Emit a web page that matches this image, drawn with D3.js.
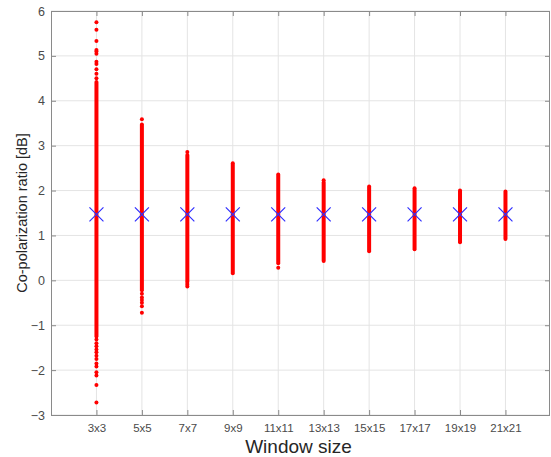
<!DOCTYPE html>
<html>
<head>
<meta charset="utf-8">
<script src="https://cdn.jsdelivr.net/npm/d3@7"></script>
<style>
  body { margin: 0; background: #fff; }
  svg { display: block; font-family: "Liberation Sans", Arial, Helvetica, sans-serif; }
</style>
</head>
<body>
<div id="chart"></div>
<script>
// window sizes on the x axis
const categories = ['3x3', '5x5', '7x7', '9x9', '11x11', '13x13', '15x15', '17x17', '19x19', '21x21'];
// mean co-pol ratio per window (blue crosses)
const meanValues = [1.47, 1.47, 1.47, 1.47, 1.47, 1.47, 1.47, 1.47, 1.47, 1.47];
// continuous part of each red column
const denseLow  = [-1.25, -0.22, -0.02, 0.16, 0.38, 0.43, 0.65, 0.69, 0.85, 0.92];
const denseHigh = [4.42, 3.47, 2.79, 2.61, 2.36, 2.18, 2.09, 2.05, 2.0, 1.98];
// isolated samples outside the continuous part
const outliers = [
  [4.5, 4.6, 4.7, 4.82, 4.87, 5.05, 5.1, 5.13, 5.33, 5.58, 5.75,
   -1.32, -1.4, -1.47, -1.54, -1.6, -1.68, -1.75, -1.85, -1.92, -2.05, -2.12, -2.33, -2.72],
  [3.59, -0.3, -0.38, -0.44, -0.5, -0.58, -0.72],
  [2.86, -0.06, -0.1, -0.14],
  [],
  [0.28],
  [2.23],
  [],
  [],
  [],
  []
];
const yTicks = [-3, -2, -1, 0, 1, 2, 3, 4, 5, 6];

const W = 551, H = 457;
const mLeft = 51, mRight = 550, mTop = 11, mBottom = 415;

const svg = d3.select('#chart').append('svg')
  .attr('width', W)
  .attr('height', H);

const x = d3.scaleLinear().domain([0, 11]).range([mLeft, mLeft + (mRight - mLeft) * 11 / 10.98]);
const y = d3.scaleLinear().domain([-3, 6]).range([mBottom, mTop]);
const xPos = (i) => x(i + 1);

const gridColor = '#e4e4e4';
const axisColor = '#8a8a8a';
const textColor = '#4a4a4a';

// grid
svg.append('g').selectAll('line')
  .data(categories)
  .enter().append('line')
  .attr('x1', (d, i) => xPos(i)).attr('x2', (d, i) => xPos(i))
  .attr('y1', mTop).attr('y2', mBottom)
  .attr('stroke', gridColor).attr('stroke-width', 1);

svg.append('g').selectAll('line')
  .data(yTicks)
  .enter().append('line')
  .attr('x1', mLeft).attr('x2', mRight)
  .attr('y1', d => y(d)).attr('y2', d => y(d))
  .attr('stroke', gridColor).attr('stroke-width', 1);

// axes (MATLAB style: ticks inside, box)
const tickLen = 5;
const xAxisB = svg.append('g')
  .attr('transform', `translate(0, ${mBottom})`)
  .call(d3.axisBottom(x).tickValues(d3.range(1, 11)).tickSize(-tickLen)
    .tickFormat(d => categories[d - 1]).tickPadding(9));
const xAxisT = svg.append('g')
  .attr('transform', `translate(0, ${mTop})`)
  .call(d3.axisTop(x).tickValues(d3.range(1, 11)).tickSize(-tickLen).tickFormat(''));
const yAxisL = svg.append('g')
  .attr('transform', `translate(${mLeft}, 0)`)
  .call(d3.axisLeft(y).tickValues(yTicks).tickSize(-tickLen).tickPadding(6));
const yAxisR = svg.append('g')
  .attr('transform', `translate(${mRight}, 0)`)
  .call(d3.axisRight(y).tickValues(yTicks).tickSize(-tickLen).tickFormat(''));

[xAxisB, xAxisT, yAxisL, yAxisR].forEach(g => {
  g.select('.domain').remove();
  g.selectAll('line').attr('stroke', axisColor);
  g.selectAll('text').attr('fill', textColor).style('font-size', '11.5px')
    .style('font-family', '"Liberation Sans", Arial, Helvetica, sans-serif');
});
yAxisL.selectAll('text').style('font-size', '12.5px');

// box
svg.append('rect')
  .attr('x', mLeft + 0.5).attr('y', mTop + 0.5)
  .attr('width', mRight - mLeft - 1).attr('height', mBottom - mTop)
  .attr('fill', 'none').attr('stroke', axisColor).attr('stroke-width', 1);

// red columns
const cols = svg.append('g');
cols.selectAll('line')
  .data(categories)
  .enter().append('line')
  .attr('x1', (d, i) => xPos(i)).attr('x2', (d, i) => xPos(i))
  .attr('y1', (d, i) => y(denseLow[i])).attr('y2', (d, i) => y(denseHigh[i]))
  .attr('stroke', '#ff0000').attr('stroke-width', 4).attr('stroke-linecap', 'round');

const outPts = [];
outliers.forEach((arr, i) => arr.forEach(v => outPts.push({ i, v })));
cols.selectAll('circle')
  .data(outPts)
  .enter().append('circle')
  .attr('cx', d => xPos(d.i))
  .attr('cy', d => y(d.v))
  .attr('r', 2)
  .attr('fill', '#ff0000');

// blue crosses
const s = 7;
svg.append('g').selectAll('path')
  .data(meanValues)
  .enter().append('path')
  .attr('d', (d, i) => {
    const cx = xPos(i), cy = y(d);
    return `M${cx - s},${cy - s}L${cx + s},${cy + s}M${cx - s},${cy + s}L${cx + s},${cy - s}`;
  })
  .attr('stroke', '#3030ff').attr('stroke-width', 1.2).attr('fill', 'none');

// labels
svg.append('text')
  .attr('x', (mLeft + mRight) / 2 - 2)
  .attr('y', 453)
  .attr('text-anchor', 'middle')
  .attr('fill', '#262626')
  .style('font-size', '19px')
  .text('Window size');

svg.append('text')
  .attr('transform', `translate(27, ${(mTop + mBottom) / 2}) rotate(-90)`)
  .attr('text-anchor', 'middle')
  .attr('fill', '#262626')
  .style('font-size', '14.5px')
  .text('Co-polarization ratio [dB]');
</script>
</body>
</html>
